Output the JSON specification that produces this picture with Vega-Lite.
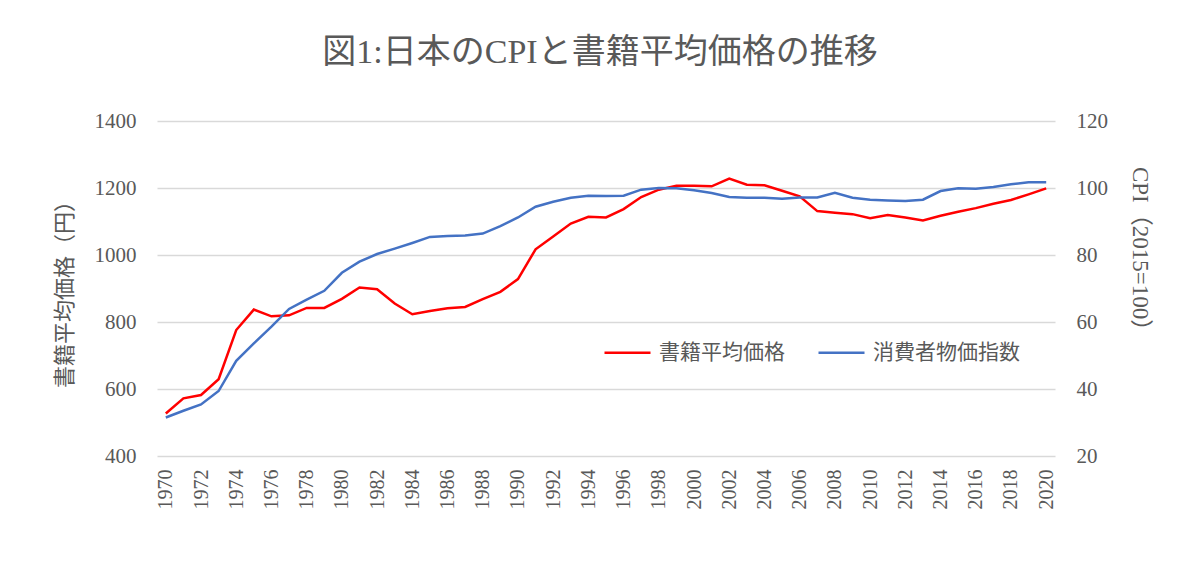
{
  "$schema": "https://vega.github.io/schema/vega-lite/v6.json",
  "width": 898,
  "height": 335,
  "autosize": "none",
  "padding": {"left": 157, "right": 145, "top": 121, "bottom": 113},
  "background": "white",
  "config": {
    "font": "Liberation Serif, Noto Sans CJK JP",
    "view": {"stroke": null},
    "axis": {"labelColor": "#595959", "titleColor": "#595959", "labelFont": "Liberation Serif, Noto Sans CJK JP", "titleFont": "Liberation Serif, Noto Sans CJK JP", "titleFontWeight": "normal"}
  },
  "title": {
    "text": "図1:日本のCPIと書籍平均価格の推移",
    "fontSize": 34,
    "fontWeight": "normal",
    "color": "#595959",
    "anchor": "middle",
    "frame": "group",
    "offset": 40,
    "dx": -6
  },
  "data": {
    "values": [
      {"year": 1970, "price": 527, "cpi": 31.5},
      {"year": 1971, "price": 572, "cpi": 33.5},
      {"year": 1972, "price": 582, "cpi": 35.4},
      {"year": 1973, "price": 629, "cpi": 39.4},
      {"year": 1974, "price": 776, "cpi": 48.4},
      {"year": 1975, "price": 837, "cpi": 53.6},
      {"year": 1976, "price": 817, "cpi": 58.6},
      {"year": 1977, "price": 820, "cpi": 63.9},
      {"year": 1978, "price": 842, "cpi": 66.7},
      {"year": 1979, "price": 842, "cpi": 69.3},
      {"year": 1980, "price": 869, "cpi": 74.7},
      {"year": 1981, "price": 903, "cpi": 78.0},
      {"year": 1982, "price": 898, "cpi": 80.3},
      {"year": 1983, "price": 855, "cpi": 81.9},
      {"year": 1984, "price": 823, "cpi": 83.6},
      {"year": 1985, "price": 833, "cpi": 85.4},
      {"year": 1986, "price": 841, "cpi": 85.7},
      {"year": 1987, "price": 845, "cpi": 85.8},
      {"year": 1988, "price": 868, "cpi": 86.4},
      {"year": 1989, "price": 890, "cpi": 88.6},
      {"year": 1990, "price": 928, "cpi": 91.2},
      {"year": 1991, "price": 1017, "cpi": 94.4},
      {"year": 1992, "price": 1055, "cpi": 95.9},
      {"year": 1993, "price": 1094, "cpi": 97.1},
      {"year": 1994, "price": 1114, "cpi": 97.7},
      {"year": 1995, "price": 1112, "cpi": 97.6},
      {"year": 1996, "price": 1137, "cpi": 97.7},
      {"year": 1997, "price": 1173, "cpi": 99.5},
      {"year": 1998, "price": 1195, "cpi": 100.0},
      {"year": 1999, "price": 1207, "cpi": 99.9},
      {"year": 2000, "price": 1207, "cpi": 99.3},
      {"year": 2001, "price": 1205, "cpi": 98.5},
      {"year": 2002, "price": 1228, "cpi": 97.3},
      {"year": 2003, "price": 1210, "cpi": 97.1},
      {"year": 2004, "price": 1208, "cpi": 97.1},
      {"year": 2005, "price": 1192, "cpi": 96.8},
      {"year": 2006, "price": 1175, "cpi": 97.2},
      {"year": 2007, "price": 1131, "cpi": 97.2},
      {"year": 2008, "price": 1126, "cpi": 98.6},
      {"year": 2009, "price": 1122, "cpi": 97.1},
      {"year": 2010, "price": 1110, "cpi": 96.5},
      {"year": 2011, "price": 1119, "cpi": 96.3},
      {"year": 2012, "price": 1112, "cpi": 96.1},
      {"year": 2013, "price": 1103, "cpi": 96.5},
      {"year": 2014, "price": 1117, "cpi": 99.1},
      {"year": 2015, "price": 1129, "cpi": 99.9},
      {"year": 2016, "price": 1140, "cpi": 99.8},
      {"year": 2017, "price": 1153, "cpi": 100.3},
      {"year": 2018, "price": 1164, "cpi": 101.1},
      {"year": 2019, "price": 1181, "cpi": 101.7},
      {"year": 2020, "price": 1199, "cpi": 101.7}
    ]
  },
  "encoding": {
    "x": {
      "field": "year",
      "type": "quantitative",
      "scale": {"domain": [1969.5, 2020.5], "nice": false, "zero": false},
      "axis": {
        "title": null,
        "values": [1970, 1972, 1974, 1976, 1978, 1980, 1982, 1984, 1986, 1988, 1990, 1992, 1994, 1996, 1998, 2000, 2002, 2004, 2006, 2008, 2010, 2012, 2014, 2016, 2018, 2020],
        "format": "d",
        "labelAngle": -90,
        "labelFontSize": 20,
        "labelPadding": 13,
        "grid": false,
        "ticks": false,
        "domain": false,
        "labelFlush": false,
        "labelOverlap": false
      }
    }
  },
  "layer": [
    {
      "mark": {"type": "line", "strokeWidth": 2.5, "interpolate": "linear"},
      "encoding": {
        "y": {
          "field": "price",
          "type": "quantitative",
          "scale": {"domain": [400, 1400], "nice": false, "zero": false},
          "axis": {
            "title": "書籍平均価格（円）",
            "titleFontSize": 22,
            "titlePadding": 18,
            "values": [400, 600, 800, 1000, 1200, 1400],
            "format": "d",
            "labelFontSize": 21,
            "labelPadding": 21,
            "ticks": false,
            "domain": false,
            "grid": true,
            "gridColor": "#d9d9d9",
            "gridWidth": 1.5,
            "labelFlush": false
          }
        },
        "color": {
          "datum": "書籍平均価格",
          "type": "nominal",
          "scale": {"domain": ["書籍平均価格", "消費者物価指数"], "range": ["#ff0000", "#4472c4"]},
          "legend": {
            "title": null,
            "orient": "none",
            "direction": "horizontal",
            "legendX": 446,
            "legendY": 207,
            "symbolType": "stroke",
            "symbolSize": 2116,
            "symbolStrokeWidth": 2.5,
            "labelFontSize": 21,
            "labelColor": "#595959",
            "labelFont": "Liberation Serif, Noto Sans CJK JP",
            "labelOffset": 7,
            "columnPadding": 28,
            "labelLimit": 300
          }
        }
      }
    },
    {
      "mark": {"type": "line", "strokeWidth": 2.5, "interpolate": "linear"},
      "encoding": {
        "y": {
          "field": "cpi",
          "type": "quantitative",
          "scale": {"domain": [20, 120], "nice": false, "zero": false},
          "axis": {
            "orient": "right",
            "title": "CPI（2015=100）",
            "titleFontSize": 23,
            "titlePadding": 20,
            "titleY": 133,
            "values": [20, 40, 60, 80, 100, 120],
            "labelFontSize": 21,
            "labelPadding": 21,
            "ticks": false,
            "domain": false,
            "grid": false,
            "labelFlush": false
          }
        },
        "color": {"datum": "消費者物価指数", "type": "nominal"}
      }
    }
  ],
  "resolve": {"scale": {"y": "independent"}}
}
